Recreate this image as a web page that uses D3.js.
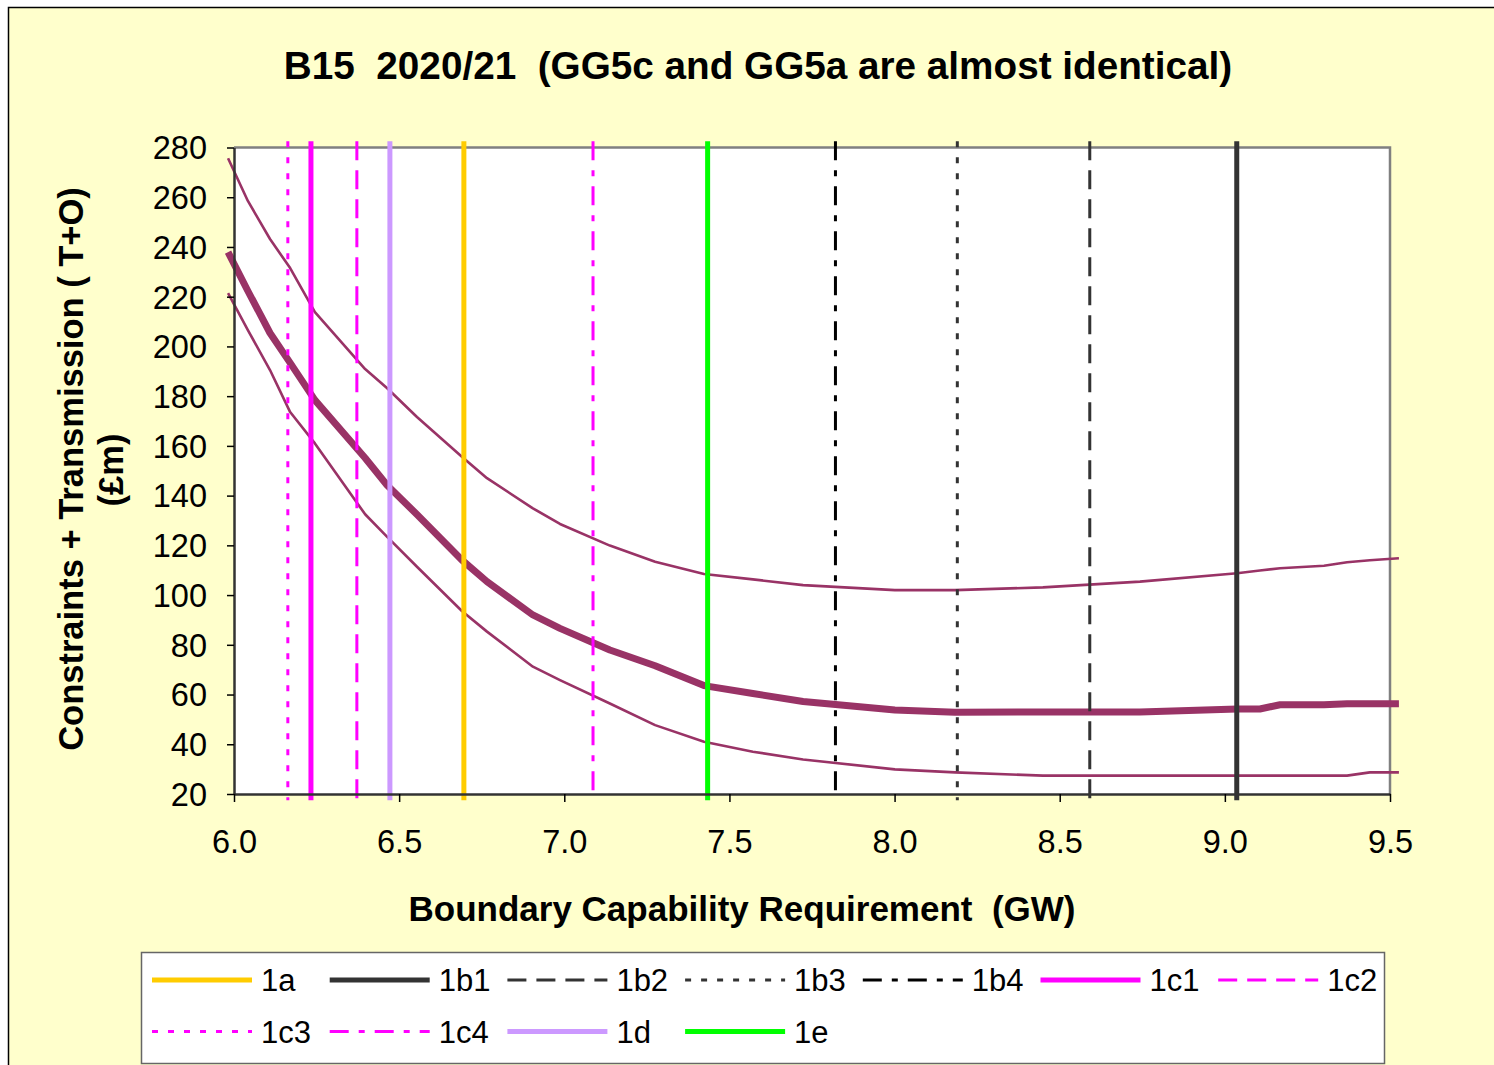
<!DOCTYPE html>
<html>
<head>
<meta charset="utf-8">
<script src="https://cdn.jsdelivr.net/npm/d3@7"></script>
<style>
  html, body { margin: 0; padding: 0; background: #ffffff; }
  svg { display: block; font-family: "Liberation Sans", Arial, sans-serif; }
  svg text { white-space: pre; }
</style>
</head>
<body>
<svg id="chart" width="1494" height="1065"></svg>
<script>
// ---- data ----
const xValues = [5.982, 6.042, 6.109, 6.170, 6.245, 6.397, 6.463, 6.554, 6.690, 6.766,
                 6.905, 6.987, 7.138, 7.275, 7.423, 7.571, 7.723, 8.001, 8.183, 8.449,
                 8.743, 9.037, 9.106, 9.167, 9.300, 9.370, 9.439, 9.527];
const upperValues = [275.7, 258.5, 243.2, 231.5, 213.8, 190.9, 183.3, 171.6, 155.6, 147.0,
                     134.9, 128.6, 119.9, 113.4, 108.5, 106.3, 104.0, 102.0, 102.0, 103.1,
                     105.4, 108.8, 109.9, 110.8, 111.8, 113.2, 114.0, 114.8];
const centralValues = [237.9, 222.3, 205.4, 193.4, 178.4, 155.1, 144.3, 132.4, 114.1, 105.4,
                       92.0, 86.6, 77.9, 71.6, 63.6, 60.4, 57.2, 53.8, 52.9, 53.0,
                       53.0, 54.2, 54.2, 55.9, 55.9, 56.3, 56.3, 56.3];
const lowerValues = [221.4, 206.6, 190.5, 173.6, 161.0, 132.5, 123.5, 111.4, 93.6, 85.3,
                     71.2, 65.8, 56.4, 47.7, 41.0, 37.0, 33.9, 29.9, 28.7, 27.4,
                     27.4, 27.4, 27.4, 27.4, 27.4, 27.4, 28.7, 28.7];

const optionNames = ["1a", "1b1", "1b2", "1b3", "1b4", "1c1", "1c2", "1c3", "1c4", "1d", "1e"];
const optionX     = [6.696, 9.036, 8.591, 8.190, 7.821, 6.233, 6.372, 6.163, 7.087, 6.472, 7.434];
const optionSpan  = [282.5, 17.5]; // vertical extent of option markers (top, bottom)

const xTicks = [6.0, 6.5, 7.0, 7.5, 8.0, 8.5, 9.0, 9.5];
const yTicks = [20, 40, 60, 80, 100, 120, 140, 160, 180, 200, 220, 240, 260, 280];

const titleText = "B15  2020/21  (GG5c and GG5a are almost identical)";
const xTitle = "Boundary Capability Requirement  (GW)";
const yTitle1 = "Constraints + Transmission ( T+O)";
const yTitle2 = "(£m)";

// ---- styles ----
const optionStyle = {
  "1a":  {color: "#FFCC00", width: 5, dash: null},
  "1b1": {color: "#333333", width: 5, dash: null},
  "1b2": {color: "#333333", width: 3, dash: "19,10"},
  "1b3": {color: "#333333", width: 3, dash: "6,10"},
  "1b4": {color: "#000000", width: 3, dash: "19,10,6,10"},
  "1c1": {color: "#FF00FF", width: 5, dash: null},
  "1c2": {color: "#FF00FF", width: 3, dash: "19,10"},
  "1c3": {color: "#FF00FF", width: 3, dash: "6,10"},
  "1c4": {color: "#FF00FF", width: 3, dash: "19,10,6,10"},
  "1d":  {color: "#CC99FF", width: 5, dash: null},
  "1e":  {color: "#00FF00", width: 5, dash: null}
};
const curveColor = "#993366";

const svg = d3.select("#chart");

// chart background
svg.append("rect").attr("x", 8.5).attr("y", 7.5).attr("width", 1500).attr("height", 1070)
  .attr("fill", "#FFFFCC").attr("stroke", "#000").attr("stroke-width", 1.5);

const plot = {left: 234, right: 1390, top: 147.5, bottom: 794};
const x = d3.scaleLinear().domain([6.0, 9.5]).range([plot.left, plot.right]);
const y = d3.scaleLinear().domain([20, 280]).range([plot.bottom, plot.top]);

// plot area
svg.append("rect").attr("x", plot.left).attr("y", plot.top)
  .attr("width", plot.right - plot.left).attr("height", plot.bottom - plot.top)
  .attr("fill", "#ffffff");
svg.append("path")
  .attr("d", `M${plot.left},${plot.top}H${plot.right}V${plot.bottom}`)
  .attr("fill", "none").attr("stroke", "#808080").attr("stroke-width", 2.5);

// curves
const line = d3.line().x(d => x(d[0])).y(d => y(d[1]));
const series = [
  {vals: upperValues, w: 2.6},
  {vals: lowerValues, w: 2.6},
  {vals: centralValues, w: 7}
];
series.forEach(s => {
  svg.append("path")
    .datum(xValues.map((v, i) => [v, s.vals[i]]))
    .attr("d", line)
    .attr("fill", "none")
    .attr("stroke", curveColor)
    .attr("stroke-width", s.w)
    .attr("stroke-linejoin", "round");
});

// option markers
optionNames.forEach((name, i) => {
  const st = optionStyle[name];
  svg.append("line")
    .attr("x1", x(optionX[i])).attr("x2", x(optionX[i]))
    .attr("y1", y(optionSpan[0])).attr("y2", y(optionSpan[1]))
    .attr("stroke", st.color).attr("stroke-width", st.width)
    .attr("stroke-dasharray", st.dash);
});

// axes
const yAxis = d3.axisLeft(y).tickValues(yTicks).tickSize(7).tickSizeOuter(0).tickFormat(d3.format("d"));
const gy = svg.append("g").attr("transform", `translate(${plot.left},0)`).call(yAxis);
gy.select(".domain").attr("stroke", "#333").attr("stroke-width", 2.5);
gy.selectAll(".tick line").attr("stroke", "#000").attr("stroke-width", 1.5);
gy.selectAll(".tick text").attr("font-size", 32.5).attr("fill", "#000")
  .attr("font-family", "'Liberation Sans', Arial, sans-serif")
  .attr("x", -27).attr("dy", "0.35em");

const xAxis = d3.axisBottom(x).tickValues(xTicks).tickSize(8).tickSizeOuter(0).tickFormat(d3.format(".1f"));
const gx = svg.append("g").attr("transform", `translate(0,${plot.bottom})`).call(xAxis);
gx.select(".domain").attr("stroke", "#333").attr("stroke-width", 2.5);
gx.selectAll(".tick line").attr("stroke", "#000").attr("stroke-width", 1.5);
gx.selectAll(".tick text").attr("font-size", 32.5).attr("fill", "#000")
  .attr("font-family", "'Liberation Sans', Arial, sans-serif")
  .attr("y", 59).attr("dy", 0);

// titles
svg.append("text").attr("x", 758).attr("y", 79).attr("text-anchor", "middle")
  .attr("font-size", 38.7).attr("font-weight", "bold").text(titleText);
svg.append("text").attr("x", 742).attr("y", 921).attr("text-anchor", "middle")
  .attr("font-size", 35).attr("font-weight", "bold").text(xTitle);
const yt = svg.append("g").attr("transform", "rotate(-90)");
yt.append("text").attr("x", -469).attr("y", 83).attr("text-anchor", "middle")
  .attr("font-size", 34.5).attr("font-weight", "bold").text(yTitle1);
yt.append("text").attr("x", -470).attr("y", 123).attr("text-anchor", "middle")
  .attr("font-size", 34.5).attr("font-weight", "bold").text(yTitle2);

// legend
svg.append("rect").attr("x", 141.5).attr("y", 952.5).attr("width", 1243).attr("height", 111)
  .attr("fill", "#ffffff").attr("stroke", "#666666").attr("stroke-width", 1.5);
const perRow = 7, colW = 177.7, rowH = 51.5;
optionNames.forEach((name, i) => {
  const st = optionStyle[name];
  const col = i % perRow, row = Math.floor(i / perRow);
  const lx = 152 + col * colW, ly = 980 + row * rowH;
  svg.append("line").attr("x1", lx).attr("x2", lx + 100).attr("y1", ly).attr("y2", ly)
    .attr("stroke", st.color).attr("stroke-width", st.width)
    .attr("stroke-dasharray", st.dash);
  svg.append("text").attr("x", lx + 109).attr("y", ly).attr("dy", "0.36em")
    .attr("font-size", 31).text(name);
});
</script>
</body>
</html>
